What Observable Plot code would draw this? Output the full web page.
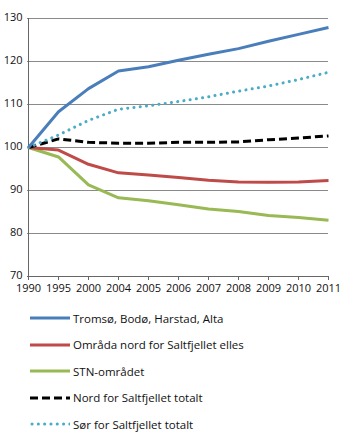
<!DOCTYPE html>
<html><head><meta charset="utf-8">
<script src="https://cdn.jsdelivr.net/npm/d3@7"></script>
<script src="https://cdn.jsdelivr.net/npm/@observablehq/plot@0.6"></script>
<style>
body{margin:0;background:#fff;font-family:"Open Sans",sans-serif;}
#legend{margin-left:30px;margin-top:5px;font-size:11.5px;color:#111;}
.row{display:flex;align-items:center;height:26.5px;}
.row svg{margin-right:3px;}
</style></head><body>
<div id="chart"></div>
<div id="legend"></div>
<script>
const years = ["1990","1995","2000","2004","2005","2006","2007","2008","2009","2010","2011"];
const tromso = [100,108.3,113.7,117.8,118.8,120.3,121.7,123.0,124.7,126.3,127.9];
const nordElles = [100,99.4,96.1,94.1,93.6,93.0,92.4,92.0,91.9,92.0,92.3];
const stn = [100,97.8,91.3,88.3,87.6,86.7,85.7,85.1,84.2,83.7,83.1];
const nordTotalt = [100,102.0,101.2,101.0,101.0,101.2,101.2,101.3,101.8,102.2,102.7];
const sorTotalt = [100,102.9,106.3,108.9,109.7,110.7,111.8,113.1,114.3,115.8,117.5];
const yTicks = [70,80,90,100,110,120,130];

const DOT = "0.1 6.2";
const series = [
  {name:"Tromsø, Bodø, Harstad, Alta", values:tromso, color:"#4a7ebb", dash:null, width:3},
  {name:"Områda nord for Saltfjellet elles", values:nordElles, color:"#be4b48", dash:null, width:3},
  {name:"STN-området", values:stn, color:"#98b954", dash:null, width:3},
  {name:"Nord for Saltfjellet totalt", values:nordTotalt, color:"#000000", dash:"8 4", width:3},
  {name:"Sør for Saltfjellet totalt", values:sorTotalt, color:"#4bacc6", dash:DOT, width:3}
];
const data = series.flatMap(s => years.map((y,i)=>({year:y, value:s.values[i], name:s.name})));

const marks = [
  Plot.ruleY(yTicks.filter(t=>t>70), {stroke:"#8a8a8a", strokeWidth:1}),
  Plot.ruleX([years[0]], {stroke:"#666", strokeWidth:1}),
  Plot.ruleY([70], {stroke:"#666", strokeWidth:1}),
  Plot.axisX({ticks:years, tickSize:4, tickPadding:4, fontSize:11, stroke:"#666"}),
  Plot.axisY({ticks:yTicks, tickSize:0, tickPadding:5, fontSize:11, dy:-1})
];
for (const s of [series[2], series[1], series[3], series[4], series[0]]) {
  marks.push(Plot.line(data.filter(d=>d.name===s.name), {
    x:"year", y:"value", stroke:s.color, strokeWidth:s.width,
    strokeDasharray:s.dash, strokeLinecap: s.dash===DOT ? "round" : "butt",
    strokeLinejoin:"round"
  }));
}

const chart = Plot.plot({
  width:350, height:300,
  marginLeft:27, marginRight:22, marginTop:18, marginBottom:24,
  x:{type:"point", domain:years, padding:0, label:null},
  y:{domain:[70,130], label:null},
  style:{fontFamily:"'Open Sans',sans-serif", color:"#111", background:"#fff"},
  marks
});
document.getElementById("chart").appendChild(chart);

const legend = document.getElementById("legend");
for (const s of series) {
  const row = document.createElement("div");
  row.className = "row";
  const cap = s.dash===DOT ? "round" : "butt";
  row.innerHTML = `<svg width="40" height="6"><line x1="${cap==="round"?2:0}" x2="40" y1="3" y2="3" stroke="${s.color}" stroke-width="${s.width}" ${s.dash?`stroke-dasharray="${s.dash}"`:""} stroke-linecap="${cap}"/></svg><span>${s.name}</span>`;
  legend.appendChild(row);
}
</script>
</body></html>
